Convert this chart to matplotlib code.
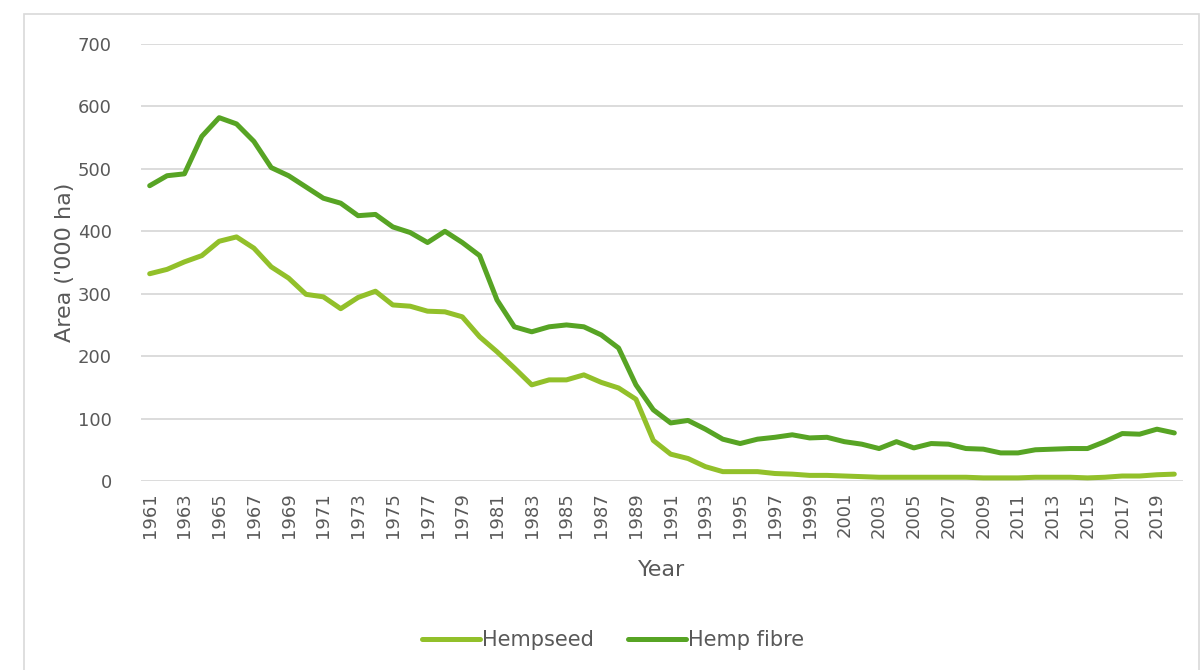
import matplotlib
matplotlib.use("Agg")
import matplotlib.pyplot as plt
from matplotlib.patches import Rectangle
import numpy as np

years = list(range(1961, 2021))

hempseed = [332, 339, 351, 361, 384, 391, 373, 343, 325, 299,
            295, 276, 294, 304, 282, 280, 272, 271, 263, 231,
            207, 181, 154, 162, 162, 170, 158, 149, 131, 65,
            43, 36, 23, 15, 15, 15, 12, 11, 9, 9,
            8, 7, 6, 6, 6, 6, 6, 6, 5, 5,
            5, 6, 6, 6, 5, 6, 8, 8, 10, 11]

hemp_fibre = [473, 489, 492, 552, 582, 572, 544, 502, 489, 471,
              453, 445, 425, 427, 407, 398, 382, 400, 382, 361,
              290, 247, 239, 247, 250, 247, 234, 213, 154, 114,
              93, 97, 83, 67, 60, 67, 70, 74, 69, 70,
              63, 59, 52, 63, 53, 60, 59, 52, 51, 45,
              45, 50, 51, 52, 52, 63, 76, 75, 83, 77]

text_col = "#595959"
plt.rcParams['font.family'] = ['DejaVu Sans']

fig = plt.figure(figsize=(12.02, 6.70), dpi=100)
ax = fig.add_axes([141/1202, 1-481/670, (1183-141)/1202, (481-44)/670])

# light frame around the whole chart
fig.patches.append(Rectangle((24/1202, -0.01), (1199-24)/1202, (670-14)/670 + 0.01,
                             transform=fig.transFigure, fill=False,
                             edgecolor="#d9d9d9", linewidth=1.2))

x = np.arange(len(years))
ax.plot(x, hempseed, color="#92c02a", linewidth=3.6, label="Hempseed",
        solid_capstyle="round", solid_joinstyle="round")
ax.plot(x, hemp_fibre, color="#57a424", linewidth=3.6, label="Hemp fibre",
        solid_capstyle="round", solid_joinstyle="round")

ax.set_xlim(-0.5, len(years) - 0.5)
ax.set_ylim(0, 700)
ax.set_yticks(range(0, 701, 100))
ax.yaxis.grid(True, color="#d9d9d9", linewidth=1.3)
ax.set_axisbelow(True)
for s in ax.spines.values():
    s.set_visible(False)

ax.set_xticks(x[::2])
ax.set_xticklabels([str(y) for y in years[::2]], rotation=90)
ax.tick_params(axis="both", length=0, labelsize=13, colors=text_col, pad=8)
ax.tick_params(axis="y", pad=21)

ax.set_xlabel("Year", fontsize=16, color=text_col, labelpad=16)
ax.set_ylabel("Area ('000 ha)", fontsize=16, color=text_col, labelpad=2)

leg = fig.legend(loc="center", bbox_to_anchor=(0.51, 1-640/670), ncol=2,
                 frameon=False, fontsize=15, handlelength=2.8,
                 handletextpad=0.1, columnspacing=1.6)
for t in leg.get_texts():
    t.set_color(text_col)

fig.savefig("out.png", dpi=100)
